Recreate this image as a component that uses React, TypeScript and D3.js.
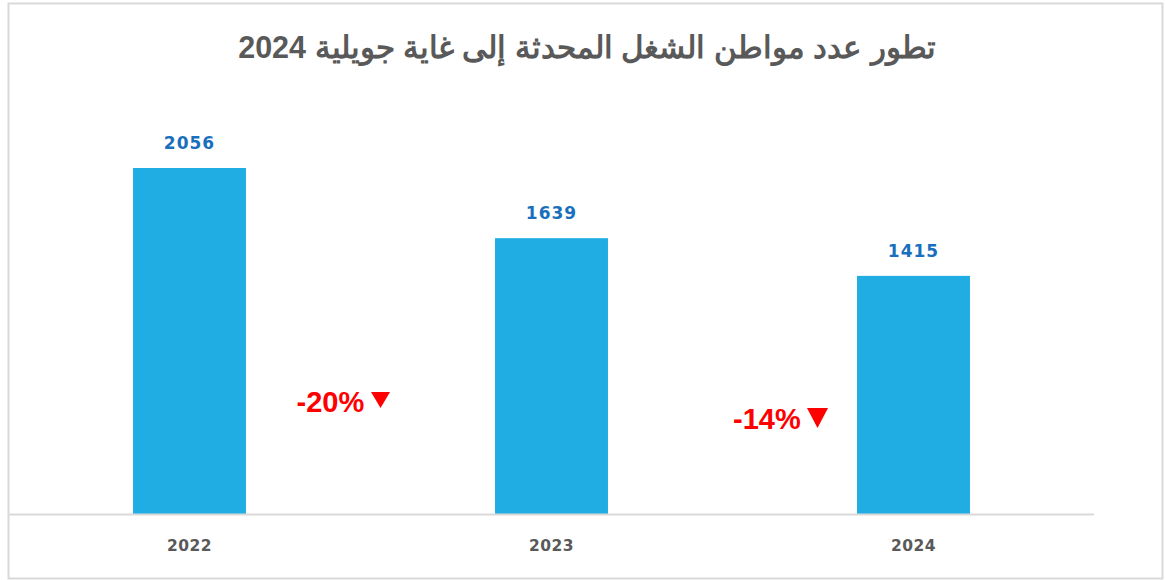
import React from "react";
import * as d3 from "d3";

const years = ["2022", "2023", "2024"];
const values = [2056, 1639, 1415];
const changes = ["-20%", "-14%"];
const title = "تطور عدد مواطن الشغل المحدثة إلى غاية جويلية 2024";

export default function App() {
  const W = 1165, H = 580;
  const baseY = 514;
  const x = d3.scaleBand<string>().domain(years).range([8.5, 1094.5]).paddingInner(0.688).paddingOuter(0.344);
  const y = d3.scaleLinear().domain([0, 2056]).range([baseY, 168]);
  const bw = x.bandwidth();
  const mid1 = (x("2022")! + bw + x("2023")!) / 2;
  const mid2 = (x("2023")! + bw + x("2024")!) / 2;
  const changePos = [
    { tx: mid1 - 74, y: 412, t0: mid1 + 0.5, tw: 19, tTop: 392, tBot: 408 },
    { tx: mid2 + 0.5, y: 429, t0: mid2 + 74.5, tw: 21, tTop: 408, tBot: 428 },
  ];
  return (
    <div style={{ position: "absolute", left: 0, top: 0 }}>
      <svg width={W} height={H} style={{ display: "block" }}>
        <rect x={0} y={0} width={W} height={H} fill="#ffffff" />
        <rect x={8.5} y={3.5} width={1154} height={575} fill="#ffffff" stroke="#d9d9d9" strokeWidth={2} />
        <text x={587} y={58} textAnchor="middle" fontFamily="'Liberation Sans', Arial, sans-serif" fontWeight="bold" fontSize={30.5} fill="#595959" direction="rtl">
          {title}
        </text>
        {years.map((yr, i) => (
          <g key={yr}>
            <rect x={x(yr)} y={y(values[i])} width={bw} height={baseY - y(values[i])} fill="#1fade4" />
            <text x={x(yr)! + bw / 2} y={y(values[i]) - 19} textAnchor="middle" fontFamily="'DejaVu Sans', sans-serif" fontWeight="bold" fontSize={17} fill="#1a6fbd" letterSpacing={1}>
              {values[i]}
            </text>
            <text x={x(yr)! + bw / 2} y={551} textAnchor="middle" fontFamily="'DejaVu Sans', sans-serif" fontWeight="bold" fontSize={15.5} fill="#595959" letterSpacing={0.5}>
              {yr}
            </text>
          </g>
        ))}
        <line x1={8} x2={1094} y1={baseY + 0.5} y2={baseY + 0.5} stroke="#d9d9d9" strokeWidth={2} />
        {changes.map((c, i) => {
          const p = changePos[i];
          return (
            <g key={c}>
              <text x={p.tx} y={p.y} textAnchor="start" fontFamily="'Liberation Sans', Arial, sans-serif" fontWeight="bold" fontSize={29} fill="#ff0000">
                {c}
              </text>
              <path d={`M${p.t0},${p.tTop} L${p.t0 + p.tw},${p.tTop} L${p.t0 + p.tw / 2},${p.tBot} Z`} fill="#ff0000" />
            </g>
          );
        })}
      </svg>
    </div>
  );
}
